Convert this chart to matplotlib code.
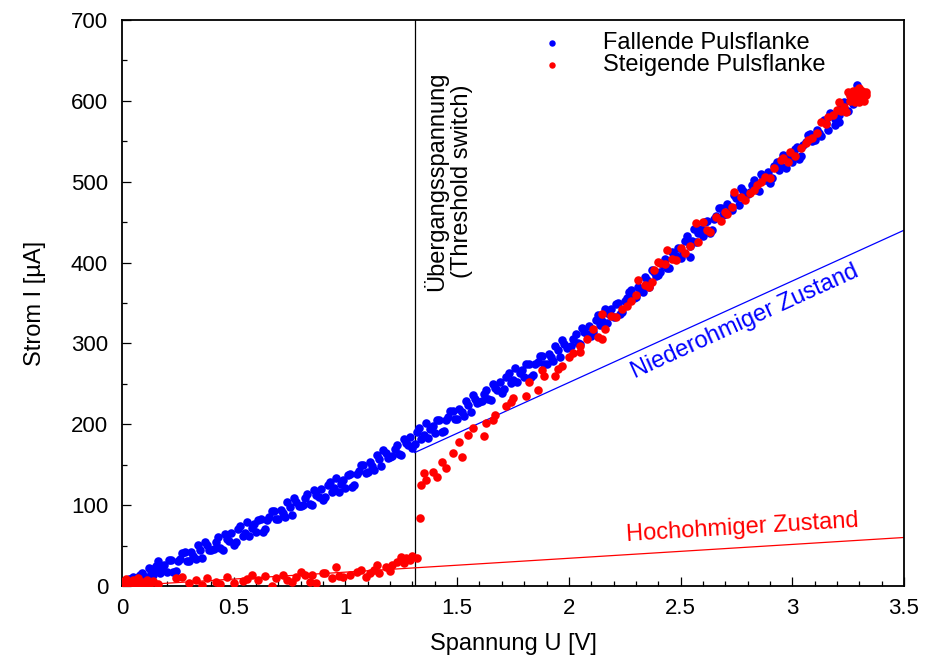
#!/usr/bin/env python3
"""
Strom-Spannungs-Kennlinie eines Threshold-Switch:
fallende und steigende Pulsflanke, mit Hilfslinien fuer die beiden Zustaende.
"""

import matplotlib
matplotlib.use("Agg")
import matplotlib.pyplot as plt
from matplotlib.ticker import MultipleLocator

# Fallende Pulsflanke, Durchlauf A: Spannung U [V], Strom I [uA]
fall_u = [
    0.00, 0.01, 0.02, 0.03, 0.04, 0.05, 0.06, 0.07, 0.08, 0.09,
    0.10, 0.11, 0.12, 0.13, 0.14, 0.15, 0.16, 0.17, 0.18,
    0.20, 0.22, 0.24, 0.26, 0.28, 0.30, 0.32, 0.34, 0.36, 0.38,
    0.40, 0.42, 0.44, 0.46, 0.48, 0.50, 0.52, 0.54, 0.56, 0.58,
    0.60, 0.62, 0.64, 0.66, 0.68, 0.70, 0.72, 0.74, 0.76, 0.78,
    0.80, 0.82, 0.84, 0.86, 0.88, 0.90, 0.92, 0.94, 0.96, 0.98,
    1.00, 1.02, 1.04, 1.06, 1.08, 1.10, 1.12, 1.14, 1.16, 1.18,
    1.20, 1.22, 1.24, 1.26, 1.28, 1.30, 1.32, 1.34, 1.36, 1.38,
    1.40, 1.42, 1.44, 1.46, 1.48, 1.50, 1.52, 1.54, 1.56, 1.58,
    1.60, 1.62, 1.64, 1.66, 1.68, 1.70, 1.72, 1.74, 1.76, 1.78,
    1.80, 1.82, 1.84, 1.86, 1.88, 1.90, 1.92, 1.94, 1.96, 1.98,
    2.00, 2.02, 2.04, 2.06, 2.08, 2.10, 2.12, 2.14, 2.16, 2.18,
    2.20, 2.22, 2.24, 2.26, 2.28, 2.30, 2.32, 2.34, 2.36, 2.38,
    2.40, 2.42, 2.44, 2.46, 2.48, 2.50, 2.52, 2.54, 2.56, 2.58,
    2.60, 2.62, 2.64, 2.66, 2.68, 2.70, 2.72, 2.74, 2.76, 2.78,
    2.80, 2.82, 2.84, 2.86, 2.88, 2.90, 2.92, 2.94, 2.96, 2.98,
    3.00, 3.02, 3.04, 3.06, 3.08, 3.10, 3.12, 3.14, 3.16, 3.18,
    3.20, 3.22, 3.24, 3.26, 3.27, 3.28, 3.29, 3.30, 3.31,
    2.54, 3.19, 3.21,
]
fall_i = [
    2, 5, 1, 3, 9, 11, 5, 8, 14, 16,
    10, 9, 22, 18, 13, 25, 31, 17, 23,
    17, 32, 19, 34, 42, 31, 37, 51, 35, 51,
    45, 54, 47, 64, 56, 51, 70, 62, 79, 72,
    67, 83, 70, 85, 93, 83, 90, 104, 88, 104,
    99, 109, 101, 119, 110, 106, 125, 116, 134, 126,
    121, 138, 125, 142, 150, 141, 148, 162, 148, 164,
    159, 170, 163, 182, 174, 171, 190, 182, 201, 194,
    189, 205, 192, 209, 217, 207, 215, 229, 215, 231,
    227, 238, 231, 250, 242, 239, 258, 251, 269, 263,
    258, 274, 261, 277, 285, 275, 283, 297, 283, 299,
    295, 306, 300, 319, 312, 309, 329, 323, 342, 337,
    333, 350, 339, 356, 366, 357, 366, 382, 370, 388,
    385, 397, 393, 413, 408, 406, 427, 421, 441, 436,
    433, 451, 440, 458, 468, 460, 469, 484, 471, 488,
    485, 496, 490, 509, 502, 499, 520, 514, 533, 528,
    525, 543, 532, 549, 559, 551, 560, 576, 564, 582,
    579, 592, 587, 608, 596, 602, 620, 615, 608,
    407, 570, 574,
]

# Fallende Pulsflanke, Durchlauf B
fall_u_b = [
    0.01, 0.03, 0.05, 0.07, 0.09, 0.11, 0.13, 0.15, 0.17, 0.19,
    0.21, 0.23, 0.25, 0.27, 0.29, 0.31, 0.33, 0.35, 0.37, 0.39,
    0.41, 0.43, 0.45, 0.47, 0.49, 0.51, 0.53, 0.55, 0.57, 0.59,
    0.61, 0.63, 0.65, 0.67, 0.69, 0.71, 0.73, 0.75, 0.77, 0.79,
    0.81, 0.83, 0.85, 0.87, 0.89, 0.91, 0.93, 0.95, 0.97, 0.99,
    1.01, 1.03, 1.05, 1.07, 1.09, 1.11, 1.13, 1.15, 1.17, 1.19,
    1.21, 1.23, 1.25, 1.27, 1.29, 1.31, 1.33, 1.35, 1.37, 1.39,
    1.41, 1.43, 1.45, 1.47, 1.49, 1.51, 1.53, 1.55, 1.57, 1.59,
    1.61, 1.63, 1.65, 1.67, 1.69, 1.71, 1.73, 1.75, 1.77, 1.79,
    1.81, 1.83, 1.85, 1.87, 1.89, 1.91, 1.93, 1.95, 1.97, 1.99,
    2.01, 2.03, 2.05, 2.07, 2.09, 2.11, 2.13, 2.15, 2.17, 2.19,
    2.21, 2.23, 2.25, 2.27, 2.29, 2.31, 2.33, 2.35, 2.37, 2.39,
    2.41, 2.43, 2.45, 2.47, 2.49, 2.51, 2.53, 2.55, 2.57, 2.59,
    2.61, 2.63, 2.65, 2.67, 2.69, 2.71, 2.73, 2.75, 2.77, 2.79,
    2.81, 2.83, 2.85, 2.87, 2.89, 2.91, 2.93, 2.95, 2.97, 2.99,
    3.01, 3.03, 3.05, 3.07, 3.09, 3.11, 3.13, 3.15, 3.17, 3.19,
    3.21, 3.23, 3.25, 3.27, 3.29,
]
fall_i_b = [
    2, 9, 4, 11, 15, 11, 21, 18, 16, 26,
    32, 17, 31, 41, 31, 42, 33, 45, 55, 45,
    46, 60, 45, 58, 65, 55, 74, 66, 62, 77,
    82, 67, 82, 93, 83, 94, 85, 98, 109, 99,
    100, 114, 100, 113, 120, 110, 129, 121, 116, 131,
    137, 122, 138, 150, 140, 153, 144, 157, 168, 158,
    161, 175, 162, 177, 184, 176, 195, 187, 183, 198,
    205, 190, 205, 216, 206, 219, 210, 224, 236, 226,
    229, 243, 230, 245, 252, 244, 263, 255, 252, 267,
    274, 259, 274, 285, 275, 287, 278, 292, 304, 294,
    297, 312, 299, 314, 322, 314, 335, 328, 325, 342,
    349, 336, 352, 364, 356, 370, 363, 378, 391, 383,
    388, 404, 393, 409, 418, 412, 433, 427, 425, 442,
    450, 437, 454, 467, 459, 472, 465, 480, 492, 484,
    487, 502, 489, 504, 512, 504, 525, 519, 517, 534,
    541, 528, 545, 558, 550, 564, 557, 572, 585, 577,
    582, 598, 587, 604, 613,
]

# Steigende Pulsflanke
rise_u = [
    0.00, 0.01, 0.02, 0.02, 0.03, 0.04, 0.05, 0.06, 0.07, 0.08,
    0.09, 0.10, 0.11, 0.12, 0.14, 0.14, 0.16, 0.24, 0.27, 0.30,
    0.33, 0.36, 0.38, 0.42, 0.44, 0.47, 0.50, 0.54, 0.56, 0.58,
    0.61, 0.64, 0.67, 0.69, 0.72, 0.74, 0.76, 0.78, 0.80, 0.82,
    0.84, 0.85, 0.87, 0.90, 0.91, 0.94, 0.96, 0.97, 0.99, 1.02,
    1.05, 1.07, 1.09, 1.11, 1.13, 1.14, 1.15, 1.18, 1.20, 1.21,
    1.23, 1.25, 1.26, 1.27, 1.29, 1.30, 1.32, 1.335,
    1.34, 1.35, 1.36, 1.39, 1.41, 1.43, 1.45, 1.48, 1.51, 1.52,
    1.55, 1.57, 1.62, 1.63, 1.66, 1.67, 1.72, 1.74, 1.75, 1.81,
    1.82, 1.86, 1.88, 1.89, 1.94, 1.95, 1.97, 2.00, 2.02, 2.05,
    2.05, 2.08, 2.11, 2.13, 2.15, 2.15, 2.16, 2.19, 2.21, 2.24,
    2.26, 2.28, 2.31, 2.36, 2.37, 2.38, 2.40, 2.41, 2.44, 2.48,
    2.52, 2.57, 2.58, 2.60, 2.63, 2.66, 2.70, 2.73, 2.74, 2.77,
    2.81, 2.84, 2.88, 2.92, 2.95, 2.96, 2.99, 3.04, 3.07, 3.09,
    3.13, 3.16, 3.20, 3.21, 3.22, 3.24, 3.25, 3.26, 3.26, 3.27,
    3.27, 3.28, 3.28, 3.29, 3.29, 3.30, 3.30, 3.30, 3.31, 3.31,
    3.32, 3.32, 3.33, 3.33,
    2.30, 2.34, 2.43, 2.46, 2.50, 2.54, 2.62, 2.68, 2.71, 2.79,
    2.83, 2.86, 2.90, 2.98, 3.01, 3.06, 3.11, 3.15, 3.18, 3.23,
]
rise_i = [
    2, 6, 1, 9, 4, 0, 7, 3, 10, 2,
    5, 1, 8, 3, 6, 5, 2, 10, 11, 4,
    8, 1, 10, 5, 3, 11, 4, 6, 9, 14,
    7, 12, 0, 10, 14, 8, 5, 11, 17, 13,
    5, 14, 4, 16, 16, 10, 24, 12, 11, 14,
    17, 20, 11, 16, 20, 26, 16, 24, 19, 26,
    30, 36, 28, 35, 32, 37, 35, 84,
    125, 140, 131, 141, 135, 153, 146, 165, 178, 160,
    187, 195, 185, 202, 205, 212, 222, 228, 232, 235,
    252, 243, 267, 260, 260, 268, 272, 283, 288, 297,
    290, 305, 318, 308, 305, 336, 318, 334, 333, 342,
    346, 352, 378, 370, 376, 391, 401, 400, 416, 403,
    412, 449, 425, 450, 438, 456, 462, 469, 487, 481,
    486, 496, 506, 517, 527, 529, 537, 542, 552, 554,
    574, 580, 589, 599, 588, 586, 611, 600, 606, 612,
    605, 608, 598, 603, 614, 609, 598, 616, 604, 612,
    600, 610, 607, 611,
    360, 372, 398, 405, 418, 420, 440, 452, 460, 478,
    490, 500, 505, 525, 532, 548, 560, 571, 583, 592,
]

# Hilfslinien und Schaltspannung
u_threshold = 1.31
nieder_u = [1.31, 3.5]
nieder_i = [165, 440]
hoch_u = [0.0, 3.5]
hoch_i = [0, 60]

plt.rcParams["font.family"] = ["Liberation Sans", "DejaVu Sans"]
plt.rcParams["font.size"] = 16

fig = plt.figure(figsize=(9.28, 6.62), dpi=100)
ax = fig.add_axes([122 / 928, 76 / 662, 782 / 928, 566 / 662])

blue = "#0000ff"
red = "#ff0000"
ax.scatter(fall_u + fall_u_b, fall_i + fall_i_b, s=38, color=blue,
           linewidths=0, label="Fallende Pulsflanke", zorder=3)
ax.scatter(rise_u, rise_i, s=38, color=red, linewidths=0,
           label="Steigende Pulsflanke", zorder=4)

ax.axvline(u_threshold, color="black", lw=0.9, zorder=2)
ax.plot(nieder_u, nieder_i, color=blue, lw=0.9, zorder=2)
ax.plot(hoch_u, hoch_i, color=red, lw=0.9, zorder=2)

ax.text(1.46, 500, "Übergangsspannung\n(Threshold switch)", rotation=90,
        ha="center", va="center", multialignment="center", fontsize=17,
        linespacing=1.15)
ax.text(2.79, 327, "Niederohmiger Zustand", rotation=24.5, color=blue,
        ha="center", va="center", fontsize=17, rotation_mode="anchor")
ax.text(2.775, 72, "Hochohmiger Zustand", rotation=3.5, color=red,
        ha="center", va="center", fontsize=17, rotation_mode="anchor")

ax.set_xlim(0, 3.5)
ax.set_ylim(0, 700)
ax.xaxis.set_major_locator(MultipleLocator(0.5))
ax.xaxis.set_minor_locator(MultipleLocator(0.1))
ax.yaxis.set_major_locator(MultipleLocator(100))
ax.yaxis.set_minor_locator(MultipleLocator(50))
ax.xaxis.set_major_formatter(plt.FuncFormatter(lambda v, p: f"{v:g}"))
ax.tick_params(which="both", direction="in", top=False, right=False,
               labelsize=16, width=0.9)
ax.tick_params(axis="x", pad=9)
ax.tick_params(axis="y", pad=10)
ax.tick_params(which="major", length=6.5)
ax.tick_params(which="minor", length=3.5)
for sp in ax.spines.values():
    sp.set_linewidth(1.3)

ax.set_xlabel("Spannung U [V]", fontsize=17, labelpad=10)
ax.set_ylabel("Strom I [µA]", fontsize=17, labelpad=18)

ax.legend(loc="upper left", bbox_to_anchor=(0.523, 1.0), frameon=False,
          borderpad=0, handlelength=0.8, handletextpad=1.75, labelspacing=0.0,
          fontsize=17, markerscale=0.75)

fig.savefig("out.png", dpi=100)
